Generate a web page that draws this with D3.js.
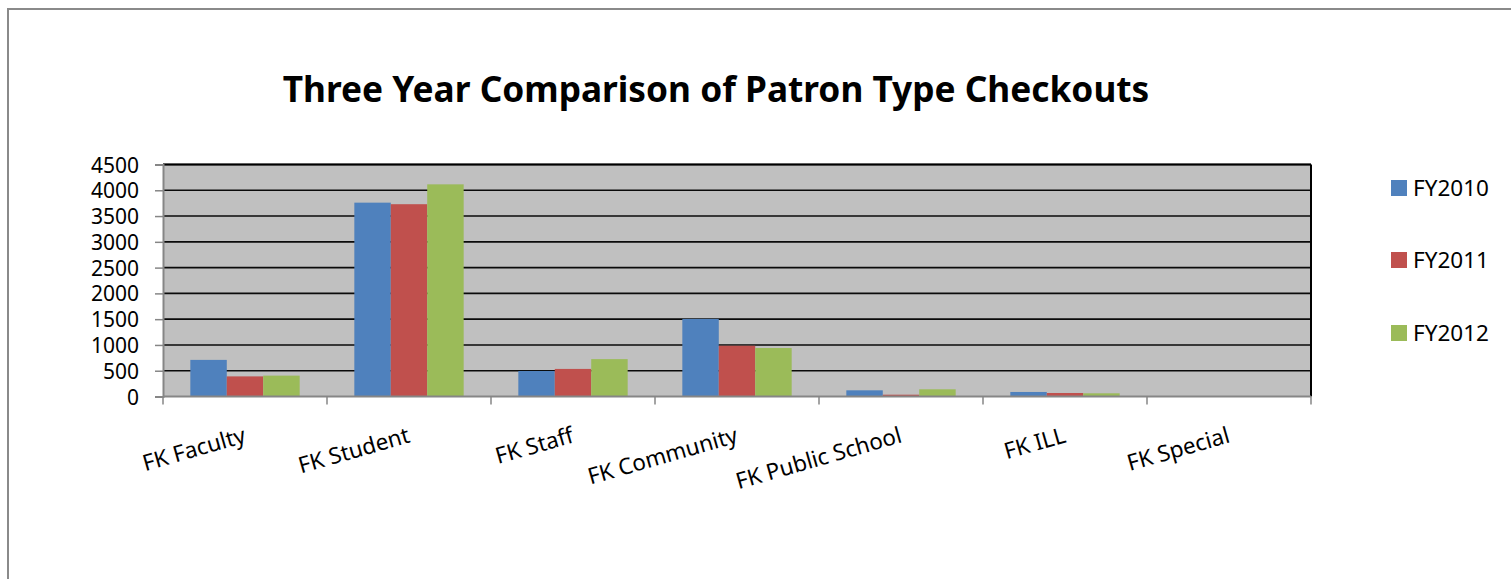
<!DOCTYPE html>
<html>
<head>
<meta charset="utf-8">
<script src="https://cdn.jsdelivr.net/npm/d3@7"></script>
<style>
  html, body { margin: 0; padding: 0; background: #fff; }
  svg { display: block; }
  text { font-family: "Noto Sans", "DejaVu Sans", sans-serif; fill: #000; }
</style>
</head>
<body>
<svg id="chart" width="1511" height="579"></svg>
<script>
// ---- data ----
const title = "Three Year Comparison of Patron Type Checkouts";
const categories = ["FK Faculty", "FK Student", "FK Staff", "FK Community", "FK Public School", "FK ILL", "FK Special"];
const seriesNames = ["FY2010", "FY2011", "FY2012"];
const fy2010 = [710, 3760, 495, 1505, 120, 88, 0];
const fy2011 = [390, 3730, 535, 985, 35, 68, 0];
const fy2012 = [405, 4115, 725, 940, 140, 62, 0];
const yTicks = [0, 500, 1000, 1500, 2000, 2500, 3000, 3500, 4000, 4500];
const colors = ["#4F81BD", "#C0504D", "#9BBB59"];

const seriesValues = [fy2010, fy2011, fy2012];

const svg = d3.select("#chart");
const W = 1511, H = 579;
const plot = { left: 163, right: 1311, top: 164.5, bottom: 396.5 };

// outer frame
svg.append("path")
  .attr("d", `M8,${H} V9 H${W}`)
  .attr("fill", "none").attr("stroke", "#8a8a8a").attr("stroke-width", 2);

// title
const t = svg.append("text")
  .attr("x", 716).attr("y", 102)
  .attr("text-anchor", "middle")
  .attr("font-weight", "bold")
  .attr("font-size", 36)
  .text(title);
{
  const w = t.node().getComputedTextLength();
  t.attr("font-size", 36 * 867 / w);
}

// scales
const y = d3.scaleLinear().domain([0, 4500]).range([plot.bottom, plot.top]);
const x = d3.scaleBand().domain(categories).range([plot.left, plot.right])
  .paddingInner(1/3).paddingOuter(1/6);
const xs = d3.scaleBand().domain(seriesNames).range([0, x.bandwidth()]);
const step = x.step();

// plot background
svg.append("rect")
  .attr("x", plot.left).attr("y", plot.top)
  .attr("width", plot.right - plot.left).attr("height", plot.bottom - plot.top)
  .attr("fill", "#C0C0C0");

// gridlines
svg.append("g").selectAll("line")
  .data(yTicks.filter(d => d > 0))
  .join("line")
  .attr("x1", plot.left).attr("x2", plot.right)
  .attr("y1", d => y(d)).attr("y2", d => y(d))
  .attr("stroke", "#0a0a0a").attr("stroke-width", 1.6);

// right border
svg.append("line")
  .attr("x1", plot.right).attr("x2", plot.right)
  .attr("y1", plot.top).attr("y2", plot.bottom)
  .attr("stroke", "#000").attr("stroke-width", 2);
// top border
svg.append("line")
  .attr("x1", plot.left).attr("x2", plot.right)
  .attr("y1", plot.top).attr("y2", plot.top)
  .attr("stroke", "#000").attr("stroke-width", 2.2);

// bars
const rows = categories.map((c, i) => ({ c, vals: seriesNames.map((s, j) => ({ s, j, v: seriesValues[j][i] })) }));
svg.append("g").selectAll("g")
  .data(rows)
  .join("g")
  .attr("transform", d => `translate(${x(d.c)},0)`)
  .selectAll("rect")
  .data(d => d.vals)
  .join("rect")
  .attr("x", d => xs(d.s))
  .attr("width", xs.bandwidth())
  .attr("y", d => y(d.v))
  .attr("height", d => y(0) - y(d.v))
  .attr("fill", d => colors[d.j]);

// y axis
const yAxis = d3.axisLeft(y).tickValues(yTicks).tickSize(8).tickPadding(16).tickFormat(d3.format("d"));
const gy = svg.append("g").attr("transform", `translate(${plot.left},0)`).call(yAxis);
gy.select(".domain").attr("stroke", "#868686").attr("stroke-width", 2);
gy.selectAll(".tick line").attr("stroke", "#868686").attr("stroke-width", 1.5);
gy.selectAll(".tick text").attr("font-size", 21).attr("font-family", "'Liberation Sans', Arial, sans-serif")
  .attr("dy", "0.36em").attr("fill", "#000");

// x axis (category boundaries)
const bounds = d3.range(categories.length + 1).map(i => plot.left + i * step);
svg.append("line")
  .attr("x1", plot.left).attr("x2", plot.right)
  .attr("y1", plot.bottom).attr("y2", plot.bottom)
  .attr("stroke", "#868686").attr("stroke-width", 2);
svg.append("g").selectAll("line")
  .data(bounds)
  .join("line")
  .attr("x1", d => d).attr("x2", d => d)
  .attr("y1", plot.bottom).attr("y2", plot.bottom + 8)
  .attr("stroke", "#868686").attr("stroke-width", 1.5);

// category labels
svg.append("g").selectAll("text")
  .data(categories)
  .join("text")
  .attr("text-anchor", "end")
  .attr("font-size", 22.5)
  .attr("transform", d => `translate(${x(d) + x.bandwidth() / 2 + 2},442) rotate(-16)`)
  .text(d => d);

// legend
const legendY = [188, 260, 333];
const lg = svg.append("g").selectAll("g")
  .data(seriesNames)
  .join("g")
  .attr("transform", (d, i) => `translate(1391,${legendY[i]})`);
lg.append("rect").attr("x", 0).attr("y", -8).attr("width", 16).attr("height", 16)
  .attr("fill", (d, i) => colors[i]);
lg.append("text").attr("x", 22).attr("y", 8).attr("font-size", 22.5).text(d => d);
</script>
</body>
</html>
